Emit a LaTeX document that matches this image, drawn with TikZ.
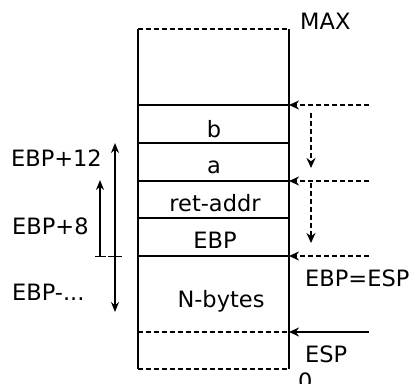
\documentclass[tikz,border=0pt]{standalone}
\usepackage{fontspec}
\setmainfont{DejaVu Sans}
\usetikzlibrary{arrows.meta}

\begin{document}
\begin{tikzpicture}[x=1pt,y=-1pt,
  wall/.style={line width=2pt},
  gap/.style={line width=2pt, dash pattern=on 5pt off 3pt},
  ptr/.style={-{Stealth[length=10pt,width=9pt]}, line width=1.6pt},
  dptr/.style={ptr, dash pattern=on 5pt off 3pt},
  span/.style={{Stealth[length=10pt,width=8pt]}-{Stealth[length=10pt,width=8pt]}, line width=1.5pt},
  up/.style={-{Stealth[length=10pt,width=8pt]}, line width=1.5pt},
  tick/.style={line width=1pt},
  lbl/.style={inner sep=0pt, font=\fontsize{22.5}{26}\selectfont},
]
\useasboundingbox (0,0) rectangle (412,383);

% stack frame outline
\coordinate (tl) at (138,29);  \coordinate (tr) at (289,29);
\coordinate (bl) at (138,369); \coordinate (br) at (289,369);
\draw[wall] (tl) -- (bl);
\draw[wall] (tr) -- (br);
\draw[gap] (tl) -- (tr);
\draw[gap] (bl) -- (br);

% slot boundaries
\foreach \y/\n in {105/1,143/2,181/3,218/4,256/5}{
  \coordinate (l\n) at (138,\y); \coordinate (r\n) at (289,\y);
  \draw[wall] (l\n) -- (r\n);
}
\coordinate (l6) at (138,332); \coordinate (r6) at (289,332);
\draw[gap] (l6) -- (r6);

% slot contents
\node[lbl, anchor=base] (vb)   at (214,137) {b};
\node[lbl, anchor=base] (va)   at (214,173) {a};
\node[lbl, anchor=base] (vret) at (215,211) {ret-addr};
\node[lbl, anchor=base] (vebp) at (215,248) {EBP};
\node[lbl, anchor=base] (vn)   at (221,307) {N-bytes};

% boundary labels
\node[lbl, anchor=base west] (max)  at (300,29)  {MAX};
\node[lbl, anchor=base west] (eq)   at (305,286) {EBP=ESP};
\node[lbl, anchor=base west] (esp)  at (305,362) {ESP};
\node[lbl, anchor=base west] (zero) at (298,389) {0};

% pointer arrows on the right
\coordinate (s1) at (369,105);
\coordinate (s3) at (369,181);
\coordinate (s5) at (369,256);
\coordinate (s6) at (369,332);
\draw[dptr] (s1) -- (r1);
\draw[dptr] (s3) -- (r3);
\draw[dptr] (s5) -- (r5);
\draw[ptr]  (s6) -- (r6);

% frame pointer moves
\coordinate (m1a) at (311,113); \coordinate (m1b) at (311,168);
\coordinate (m2a) at (311,183); \coordinate (m2b) at (311,243);
\draw[dptr] (m1a) -- (m1b);
\draw[dptr] (m2a) -- (m2b);

% offsets relative to EBP
\coordinate (o1a) at (115,143); \coordinate (o1b) at (115,312);
\draw[span] (o1a) -- (o1b);
\coordinate (t1a) at (108,256); \coordinate (t1b) at (122,256);
\draw[tick] (t1a) -- (t1b);
\coordinate (o2a) at (100,256); \coordinate (o2b) at (100,180);
\draw[up] (o2a) -- (o2b);
\coordinate (t2a) at (95,256); \coordinate (t2b) at (106,256);
\draw[tick] (t2a) -- (t2b);

\node[lbl, anchor=base east] (p12) at (102,166) {EBP+12};
\node[lbl, anchor=base west] (p8)  at (12,234)  {EBP+8};
\node[lbl, anchor=base west] (pm)  at (12,300)  {EBP-...};
\end{tikzpicture}
\end{document}
